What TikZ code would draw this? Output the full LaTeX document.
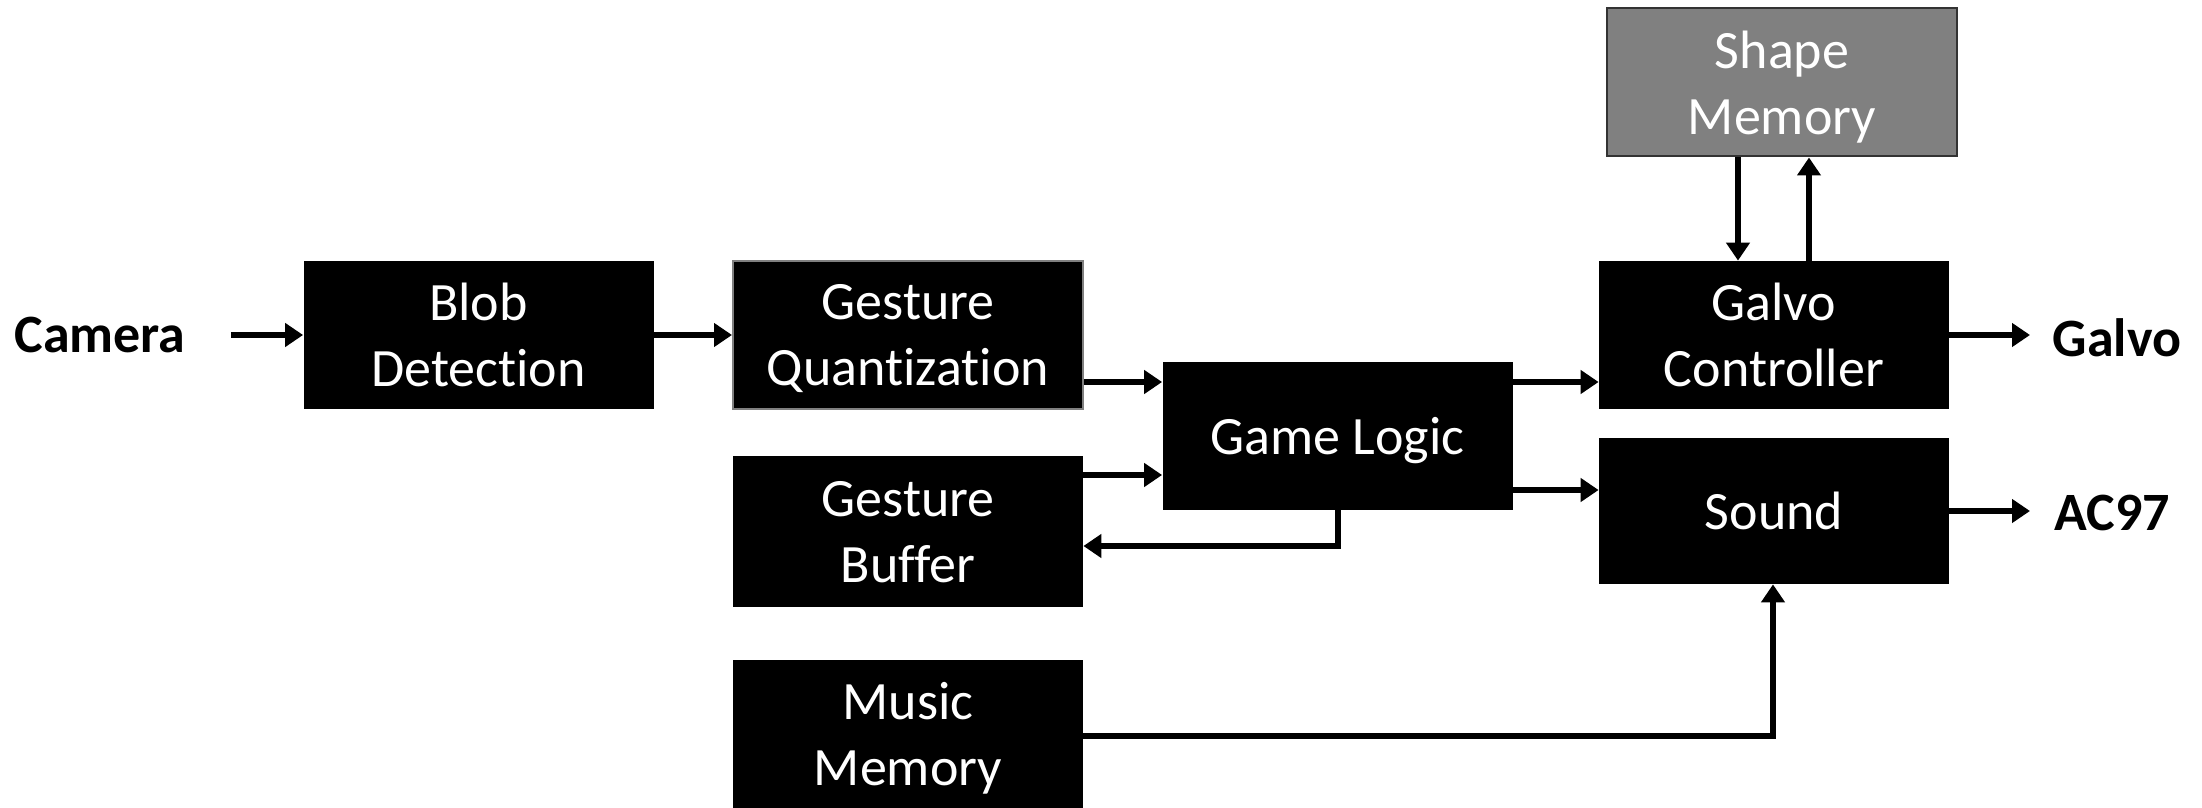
\documentclass[tikz,border=0pt]{standalone}
\usepackage{fontspec}
\setmainfont{Carlito}[Ligatures={NoCommon}]
\usetikzlibrary{arrows.meta}
\tikzset{
  blk/.style={fill=black, text=white, minimum width=175pt, minimum height=74pt,
    inner sep=0pt, align=center, text depth=0pt, font=\fontsize{27}{33}\selectfont},
  lbl/.style={font=\fontsize{27}{33}\selectfont\bfseries, inner sep=0pt},
  arr/.style={line width=3pt, -{Triangle[length=9pt,width=11.5pt]}},
}
\begin{document}
\begin{tikzpicture}[x=0.5pt,y=-0.5pt]
\useasboundingbox (0,0) rectangle (2202,808);
\begin{scope}
\clip (0,0) rectangle (2202,808);
% nodes
\node[lbl] (cam) at (100,335) {Camera};
\node[blk] (blob) at (478.5,335) {Blob\\Detection};
\node[blk, draw=black!50, line width=1pt] (gq) at (908,335) {Gesture\\Quantization};
\node[blk] (gl) at (1337.5,436) {Game Logic};
\node[blk, minimum height=75.5pt] (gb) at (908,531.5) {Gesture\\Buffer};
\node[blk] (mm) at (908,734) {Music\\Memory};
\node[blk] (gc) at (1774,335) {Galvo\\Controller};
\node[blk, minimum height=73pt] (snd) at (1774,511) {Sound};
\node[blk, fill=black!50, draw=black!80, line width=1pt] (sm) at (1782,82.5) {Shape\\Memory};
\node[lbl] (galvo) at (2117,338) {Galvo};
\node[lbl] (ac) at (2112,513) {AC97};
\coordinate (galvoin) at (2030,335);
\coordinate (acin) at (2030,511);
% connectors
\draw[arr] ([xshift=22.5pt]cam.east) -- (blob.west);
\draw[arr] (blob.east) -- (gq.west);
\draw[arr] (gq.east |- 0,382) -- (gl.west |- 0,382);
\draw[arr] (gb.east |- 0,475) -- (gl.west |- 0,475);
\draw[arr] (gl.south) -- (1337.5,546) -- (gb.east |- 0,546);
\draw[arr] (gl.east |- 0,382) -- (gc.west |- 0,382);
\draw[arr] (gl.east |- 0,490) -- (snd.west |- 0,490);
\draw[arr] (sm.south -| 1738,0) -- (gc.north -| 1738,0);
\draw[arr] (gc.north -| 1809,0) -- (sm.south -| 1809,0);
\draw[arr] (gc.east) -- (galvoin);
\draw[arr] (snd.east) -- (acin);
\draw[arr] (mm.east |- 0,736) -- (1773,736) -- (snd.south -| 1773,0);
\end{scope}
\end{tikzpicture}
\end{document}
